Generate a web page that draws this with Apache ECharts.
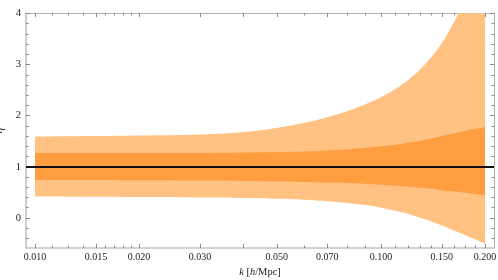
<!DOCTYPE html>
<html>
<head>
<meta charset="utf-8">
<script src="https://cdn.jsdelivr.net/npm/echarts@6/dist/echarts.min.js"></script>
<style>
html,body{margin:0;padding:0;background:#fff;}
#chart{width:498px;height:280px;}
</style>
</head>
<body>
<div id="chart"></div>
<script>
// ---- data ----
const kValues    = [0.010, 0.015, 0.020, 0.030, 0.040, 0.050, 0.060, 0.070, 0.080, 0.090, 0.100, 0.110, 0.120, 0.130, 0.140, 0.150, 0.160, 0.170, 0.180, 0.190, 0.200];
const outerUpper = [1.59, 1.60, 1.61, 1.63, 1.68, 1.76, 1.86, 1.97, 2.09, 2.22, 2.36, 2.52, 2.70, 2.91, 3.15, 3.42, 3.74, 4.10, 4.50, 4.95, 5.45];
const outerLower = [0.42, 0.415, 0.41, 0.40, 0.39, 0.375, 0.355, 0.325, 0.29, 0.25, 0.20, 0.14, 0.08, 0.00, -0.07, -0.15, -0.23, -0.30, -0.37, -0.44, -0.51];
const innerUpper = [1.27, 1.27, 1.27, 1.27, 1.28, 1.29, 1.30, 1.32, 1.34, 1.37, 1.40, 1.43, 1.47, 1.51, 1.55, 1.60, 1.64, 1.68, 1.72, 1.75, 1.78];
const innerLower = [0.74, 0.74, 0.735, 0.73, 0.72, 0.71, 0.70, 0.69, 0.68, 0.665, 0.65, 0.63, 0.61, 0.59, 0.57, 0.54, 0.52, 0.50, 0.48, 0.46, 0.44];
const referenceEta = 1;

// ---- tick labels ----
const xTickLabels = [0.010, 0.015, 0.020, 0.030, 0.050, 0.070, 0.100, 0.150, 0.200];
const xMajorTicks = [0.010, 0.015, 0.020, 0.030, 0.040, 0.050, 0.070, 0.100, 0.150, 0.200];
const xMinorTicks = [0.01125, 0.0125, 0.01375, 0.016, 0.017, 0.018, 0.019, 0.060, 0.080, 0.090, 0.110, 0.120, 0.130, 0.140, 0.1625, 0.175, 0.1875];
const yTickLabels = [0, 1, 2, 3, 4];
const yMinorTicks = [-0.4, -0.2, 0.2, 0.4, 0.6, 0.8, 1.2, 1.4, 1.6, 1.8, 2.2, 2.4, 2.6, 2.8, 3.2, 3.4, 3.6, 3.8];

const L = v => Math.log10(v);
const X_MIN = -2.026, X_MAX = -0.673;
const Y_MIN = -0.59, Y_MAX = 4.01;

const serif = 'Liberation Serif';
const tickColor = '#8a8a8a';

function xAxisDef(pos, major, showLabels, withLine) {
  return {
    type: 'value', position: pos, min: X_MIN, max: X_MAX,
    axisLine: { show: withLine, onZero: false, lineStyle: { color: pos === 'bottom' ? '#c4c4c4' : '#b0b0b0', width: pos === 'bottom' ? 1.6 : 1 } },
    axisTick: { show: true, inside: true, length: major ? 4 : 2.5,
      customValues: (major ? xMajorTicks : xMinorTicks).map(L),
      lineStyle: { color: tickColor, width: 1 } },
    axisLabel: { show: showLabels, customValues: xTickLabels.map(L),
      formatter: v => Math.pow(10, v).toFixed(3),
      fontFamily: serif, fontSize: 10, color: '#222', margin: 4 },
    splitLine: { show: false },
    name: showLabels ? '{i|k} [{i|h}/Mpc]' : '',
    nameLocation: 'middle', nameGap: 15,
    nameTextStyle: { fontFamily: serif, fontSize: 10.5, color: '#222',
      rich: { i: { fontFamily: serif, fontStyle: 'italic', fontSize: 10.5, color: '#222' } } }
  };
}
function yAxisDef(pos, major, showLabels, withLine) {
  return {
    type: 'value', position: pos, min: Y_MIN, max: Y_MAX,
    axisLine: { show: withLine, onZero: false, lineStyle: { color: pos === 'left' ? '#c4c4c4' : '#b0b0b0', width: pos === 'left' ? 1.6 : 1 } },
    axisTick: { show: true, inside: true, length: major ? 4 : 2.5,
      customValues: major ? yTickLabels : yMinorTicks,
      lineStyle: { color: tickColor, width: 1 } },
    axisLabel: { show: showLabels, customValues: yTickLabels,
      fontFamily: serif, fontSize: 10.5, color: '#222', margin: 5 },
    splitLine: { show: false },
    name: showLabels ? 'η' : '',
    nameLocation: 'middle', nameGap: 18, nameRotate: 90,
    nameTextStyle: { fontFamily: serif, fontStyle: 'italic', fontSize: 12, color: '#222' }
  };
}

// smooth path through pixel points (Catmull-Rom -> cubic Bezier)
function smoothSeg(p, first) {
  let d = first ? 'M' + p[0][0] + ' ' + p[0][1] : 'L' + p[0][0] + ' ' + p[0][1];
  const t = 0.18;
  for (let i = 0; i < p.length - 1; i++) {
    const p0 = p[Math.max(i - 1, 0)], p1 = p[i], p2 = p[i + 1], p3 = p[Math.min(i + 2, p.length - 1)];
    const c1 = [p1[0] + (p2[0] - p0[0]) * t, p1[1] + (p2[1] - p0[1]) * t];
    const c2 = [p2[0] - (p3[0] - p1[0]) * t, p2[1] - (p3[1] - p1[1]) * t];
    d += ' C' + c1[0] + ' ' + c1[1] + ' ' + c2[0] + ' ' + c2[1] + ' ' + p2[0] + ' ' + p2[1];
  }
  return d;
}

function bandSeries(lower, upper, color, z) {
  return {
    type: 'custom', coordinateSystem: 'cartesian2d', clip: true, silent: true, z: z,
    encode: { x: 0, y: [1, 2] },
    data: kValues.map((k, i) => [L(k), lower[i], upper[i]]),
    renderItem: function (params, api) {
      if (params.dataIndex !== 0) return null;
      const up = kValues.map((k, i) => api.coord([L(k), upper[i]]));
      const lo = kValues.map((k, i) => api.coord([L(k), lower[i]])).reverse();
      const d = smoothSeg(up, true) + ' ' + smoothSeg(lo, false) + ' Z';
      return { type: 'path', shape: { pathData: d }, style: { fill: color, stroke: null } };
    }
  };
}

const chart = echarts.init(document.getElementById('chart'), null, { renderer: 'canvas' });
chart.setOption({
  animation: false,
  backgroundColor: '#fff',
  grid: { left: 26, right: 4, top: 13, bottom: 32, containLabel: false, outerBoundsMode: 'none' },
  xAxis: [
    xAxisDef('bottom', true, true, true),
    xAxisDef('bottom', false, false, false),
    xAxisDef('top', true, false, true),
    xAxisDef('top', false, false, false)
  ],
  yAxis: [
    yAxisDef('left', true, true, true),
    yAxisDef('left', false, false, false),
    yAxisDef('right', true, false, true),
    yAxisDef('right', false, false, false)
  ],
  series: [
    bandSeries(outerLower, outerUpper, '#FFC283', 1),
    bandSeries(innerLower, innerUpper, '#FF9E40', 2),
    { type: 'line', data: [], symbol: 'none', z: 3,
      markLine: { silent: true, symbol: 'none', label: { show: false },
        lineStyle: { color: '#111', width: 2, type: 'solid' },
        data: [{ yAxis: referenceEta }] } }
  ]
});
</script>
</body>
</html>
